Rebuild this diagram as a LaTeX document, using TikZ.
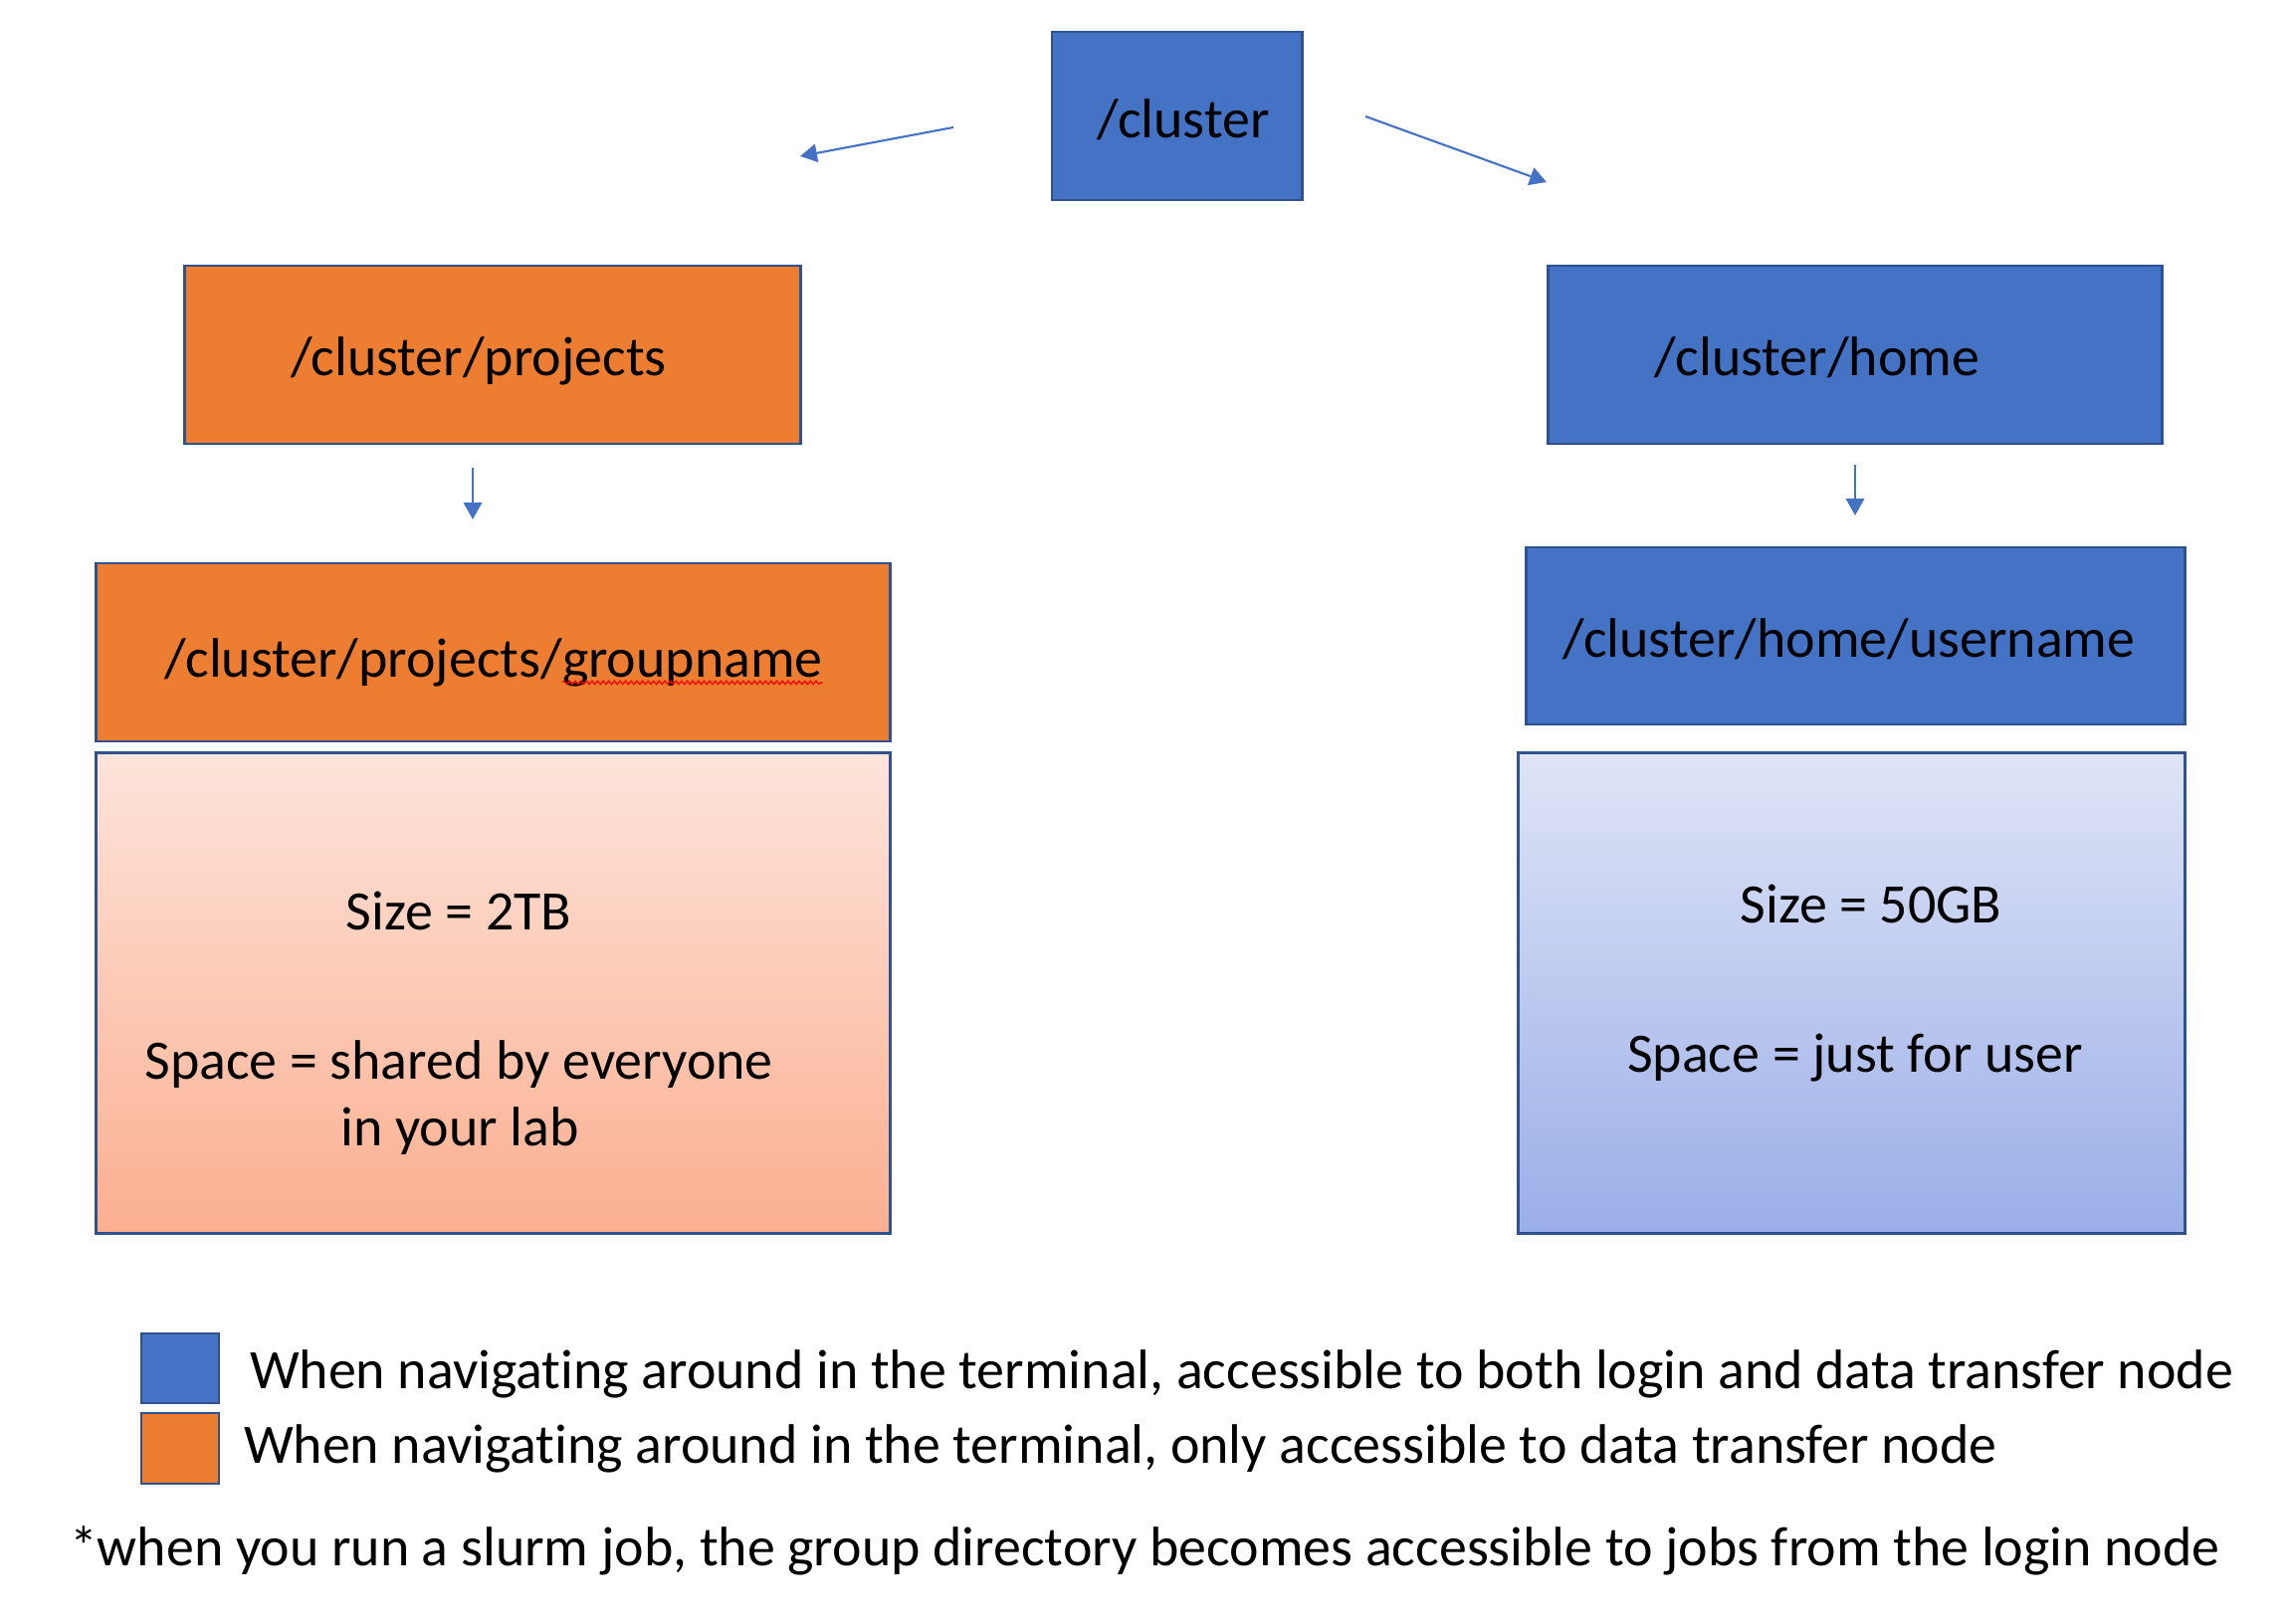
\documentclass[tikz,border=0pt]{standalone}
\usepackage{fontspec}
\setmainfont{Carlito}[Ligatures={NoCommon}]
\usetikzlibrary{arrows.meta,decorations.pathmorphing}
\definecolor{ublue}{HTML}{4472C4}
\definecolor{uedge}{HTML}{2F528F}
\definecolor{uorange}{HTML}{ED7D31}
\definecolor{ltop}{HTML}{FDE4DB}
\definecolor{lbot}{HTML}{FBAF90}
\definecolor{rtop}{HTML}{DFE4F6}
\definecolor{rbot}{HTML}{9AAEE8}
\tikzset{
  boxbase/.style={draw=uedge, line width=0.8pt, inner sep=0pt, outer sep=0pt},
  bluebox/.style={boxbase, fill=ublue},
  orangebox/.style={boxbase, fill=uorange},
  txt/.style={inner sep=0pt, outer sep=0pt, font=\fontsize{15.9}{19}\selectfont, text=black},
  conn/.style={draw=ublue, line width=0.6pt, -{Triangle[length=4.8pt,width=5.2pt]}},
}
\begin{document}
\begin{tikzpicture}[x=0.01cm, y=-0.01cm]
\useasboundingbox (0,0) rectangle (2301,1631);
% boxes
\node[bluebox, minimum width=2.51cm, minimum height=1.69cm] (clusterbox) at (1182.5,116.5) {};
\node[orangebox, minimum width=6.18cm, minimum height=1.79cm] (projbox) at (495,356.5) {};
\node[bluebox, minimum width=6.16cm, minimum height=1.79cm] (homebox) at (1864,356.5) {};
\node[orangebox, minimum width=7.97cm, minimum height=1.79cm] (groupbox) at (495.5,655.5) {};
\node[bluebox, minimum width=6.61cm, minimum height=1.78cm] (userbox) at (1864.5,639) {};
\node[boxbase, top color=ltop, bottom color=lbot, minimum width=7.97cm, minimum height=4.82cm] (leftinfo) at (495.5,998) {};
\node[boxbase, top color=rtop, bottom color=rbot, minimum width=6.69cm, minimum height=4.82cm] (rightinfo) at (1860.5,998) {};
\node[bluebox, minimum width=0.78cm, minimum height=0.70cm] (legblue) at (181,1375) {};
\node[orangebox, minimum width=0.78cm, minimum height=0.71cm] (legorange) at (181,1455.5) {};
% labels
\node[txt, anchor=base] (tcluster) at (1189,139) {/cluster};
\node[txt, anchor=base] (tproj) at (481,378) {/cluster/projects};
\node[txt, anchor=base] (thome) at (1826,378) {/cluster/home};
\node[txt, anchor=base east] (tgp1) at (565,680) {/cluster/projects/};
\node[txt, anchor=base west] (tgp2) at (565,680) {groupname};
\draw[red, line width=0.35pt, decorate, decoration={snake, segment length=1.6pt, amplitude=0.5pt}]
  ([yshift=-1.7pt]tgp2.base west) -- ([yshift=-1.7pt]tgp2.base east);
\node[txt, anchor=base] (tuser) at (1858,660) {/cluster/home/username};
\node[txt, anchor=base] (tsize1) at (461,934) {Size = 2TB};
\node[txt, anchor=base] (tspace1) at (461,1084) {Space = shared by everyone};
\node[txt, anchor=base] (tspace1b) at (462,1151) {in your lab};
\node[txt, anchor=base] (tsize2) at (1880,927) {Size = 50GB};
\node[txt, anchor=base] (tspace2) at (1864,1077) {Space = just for user};
\node[txt, anchor=base west] (tleg1) at (251,1395) {When navigating around in the terminal, accessible to both login and data transfer node};
\node[txt, anchor=base west] (tleg2) at (245,1470) {When navigating around in the terminal, only accessible to data transfer node};
\node[txt, anchor=base west] (tfoot) at (70,1573) {*when you run a slurm job, the group directory becomes accessible to jobs from the login node};
% connectors
\coordinate (la) at (958,128);
\coordinate (lb) at (804,157);
\coordinate (ra) at (1372,117);
\coordinate (rb) at (1554,183);
\coordinate (da) at (475,470);
\coordinate (db) at (475,522);
\coordinate (ea) at (1864,467);
\coordinate (eb) at (1864,518);
\draw[conn] (la) -- (lb);
\draw[conn] (ra) -- (rb);
\draw[conn] (da) -- (db);
\draw[conn] (ea) -- (eb);
\end{tikzpicture}
\end{document}
